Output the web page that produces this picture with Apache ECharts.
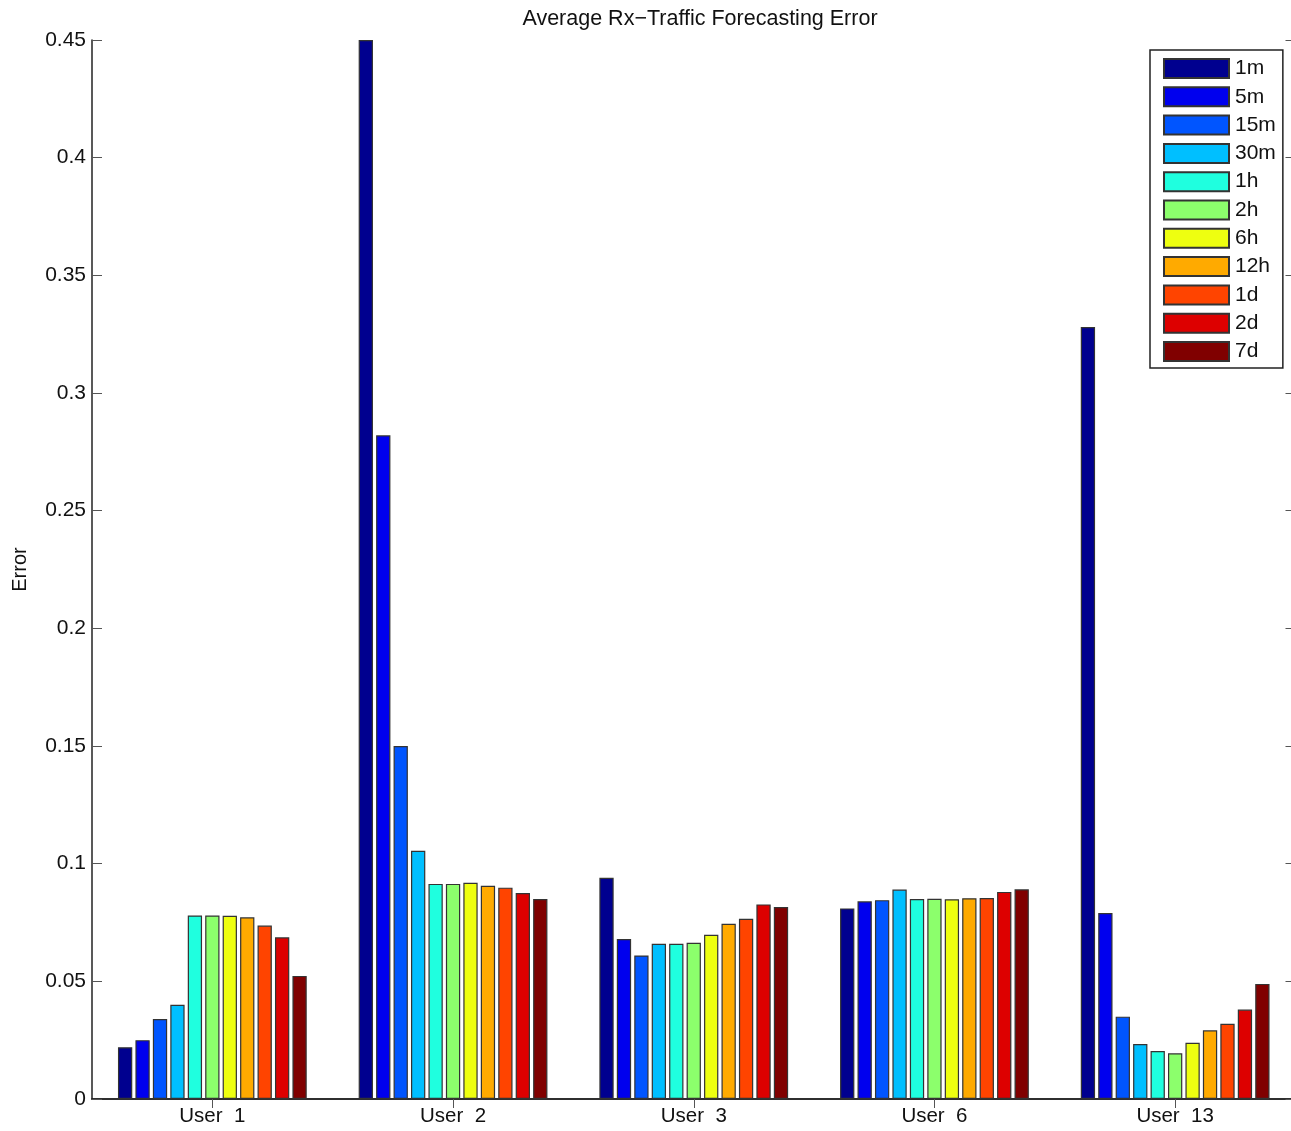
<!DOCTYPE html>
<html>
<head>
<meta charset="utf-8">
<script src="https://cdn.jsdelivr.net/npm/echarts@6/dist/echarts.min.js"></script>
<style>
html,body{margin:0;padding:0;background:#fff;}
#chart{width:1291px;height:1131px;}
</style>
</head>
<body>
<div id="chart"></div>
<script>
// ---- data ----
const users = ['User  1', 'User  2', 'User  3', 'User  6', 'User  13'];
const horizons = ['1m', '5m', '15m', '30m', '1h', '2h', '6h', '12h', '1d', '2d', '7d'];
const yTicks = [0, 0.05, 0.1, 0.15, 0.2, 0.25, 0.3, 0.35, 0.4, 0.45];

const err1m  = [0.022, 0.450, 0.094, 0.081, 0.328];
const err5m  = [0.025, 0.282, 0.068, 0.084, 0.079];
const err15m = [0.034, 0.150, 0.061, 0.0845, 0.035];
const err30m = [0.040, 0.1055, 0.066, 0.089, 0.0234];
const err1h  = [0.078, 0.0914, 0.066, 0.085, 0.0204];
const err2h  = [0.078, 0.0914, 0.0664, 0.0851, 0.0194];
const err6h  = [0.0779, 0.0919, 0.0698, 0.0849, 0.0239];
const err12h = [0.0772, 0.0906, 0.0745, 0.0853, 0.0292];
const err1d  = [0.0737, 0.0898, 0.0766, 0.0854, 0.032];
const err2d  = [0.0687, 0.0875, 0.0827, 0.088, 0.038];
const err7d  = [0.0523, 0.085, 0.0816, 0.0891, 0.0489];

const seriesValues = [err1m, err5m, err15m, err30m, err1h, err2h, err6h, err12h, err1d, err2d, err7d];
const colors = ['#00008F', '#0000EE', '#0055FF', '#00BFFF', '#1FFFDF', '#8CFF6C', '#EEFF10', '#FFAA00', '#FF4400', '#DD0000', '#800000'];

const FONT = '"Liberation Sans", Arial, Helvetica, sans-serif';
const chart = echarts.init(document.getElementById('chart'), null, {renderer: 'canvas'});

const series = horizons.map((h, i) => ({
  name: h,
  type: 'bar',
  data: seriesValues[i],
  barWidth: 14.3,
  barGap: '22%',
  itemStyle: {color: colors[i], borderColor: '#333', borderWidth: 1.2},
  emphasis: {disabled: true},
  silent: true
}));

chart.setOption({
  animation: false,
  backgroundColor: '#fff',
  title: {
    text: 'Average Rx\u2212Traffic Forecasting Error',
    left: 695, top: 3, textAlign: 'center',
    textStyle: {fontFamily: FONT, fontSize: 21.5, fontWeight: 'normal', color: '#111'}
  },
  legend: {
    orient: 'vertical',
    left: 1150, top: 50,
    padding: [8, 7, 6, 13],
    icon: 'rect',
    itemWidth: 65, itemHeight: 19, itemGap: 7.3,
    borderColor: '#222', borderWidth: 1.5, backgroundColor: '#fff',
    textStyle: {fontFamily: FONT, fontSize: 21, lineHeight: 19, color: '#111', padding: [0, 0, 0, 1]},
    data: horizons,
    selectedMode: false
  },
  grid: {left: 92, top: 40, bottom: 32, width: 1203.5, containLabel: false, outerBoundsMode: 'none'},
  xAxis: [{
    type: 'category', data: users, position: 'bottom',
    axisLine: {show: true, lineStyle: {color: '#222', width: 1.5}},
    axisTick: {show: true, inside: true, alignWithLabel: true, length: 9, lineStyle: {color: '#555'}},
    axisLabel: {fontFamily: FONT, fontSize: 20.5, color: '#111', margin: 7}
  }, {
    type: 'category', data: users, position: 'top',
    axisLine: {show: true, lineStyle: {color: '#222', width: 1.5}},
    axisTick: {show: true, inside: true, alignWithLabel: true, length: 9, lineStyle: {color: '#555'}},
    axisLabel: {show: false}
  }],
  yAxis: [{
    type: 'value', min: yTicks[0], max: yTicks[yTicks.length - 1], interval: 0.05,
    name: 'Error', nameLocation: 'middle', nameGap: 62, nameRotate: 90,
    nameTextStyle: {fontFamily: FONT, fontSize: 20, color: '#111'},
    axisLine: {show: true, lineStyle: {color: '#222', width: 1.5}},
    axisTick: {show: true, inside: true, length: 10, lineStyle: {color: '#555'}},
    axisLabel: {fontFamily: FONT, fontSize: 21, color: '#111', margin: 6,
      formatter: v => String(parseFloat(v.toFixed(2)))},
    splitLine: {show: false}
  }, {
    type: 'value', min: yTicks[0], max: yTicks[yTicks.length - 1], interval: 0.05, position: 'right',
    axisLine: {show: true, lineStyle: {color: '#222', width: 1.5}},
    axisTick: {show: true, inside: true, length: 10, lineStyle: {color: '#555'}},
    axisLabel: {show: false},
    splitLine: {show: false}
  }],
  series: series
});
</script>
</body>
</html>
